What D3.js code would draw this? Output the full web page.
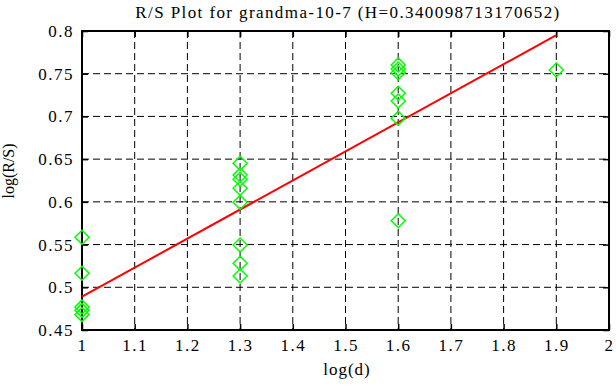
<!DOCTYPE html>
<html>
<head>
<meta charset="utf-8">
<script src="https://cdn.jsdelivr.net/npm/d3@7"></script>
<style>
  body { margin: 0; background: #fff; }
</style>
</head>
<body>
<div id="chart"></div>
<script>
var svgWidth = 616;
var svgHeight = 387;

var margin = { top: 31, right: 7, bottom: 57, left: 82 };
var width = svgWidth - margin.left - margin.right;
var height = svgHeight - margin.top - margin.bottom;

// data
var logD = [1, 1, 1, 1, 1,
            1.3, 1.3, 1.3, 1.3, 1.3, 1.3, 1.3, 1.3,
            1.6, 1.6, 1.6, 1.6, 1.6, 1.6, 1.6,
            1.9];
var logRS = [0.5585, 0.5164, 0.477, 0.473, 0.468,
             0.6451, 0.6314, 0.6264, 0.6159, 0.5995, 0.5495, 0.5281, 0.5132,
             0.7602, 0.7555, 0.7512, 0.7271, 0.7181, 0.6978, 0.5779,
             0.7543];
var fitX = [1, 1.9];
var hurst = 0.340098713170652;
var intercept = 0.1489;
var xTicks = [1, 1.1, 1.2, 1.3, 1.4, 1.5, 1.6, 1.7, 1.8, 1.9, 2];
var yTicks = [0.45, 0.5, 0.55, 0.6, 0.65, 0.7, 0.75, 0.8];

var fontFamily = "'Liberation Serif', 'DejaVu Serif', serif";

var svg = d3.select("#chart")
    .append("svg")
    .attr("width", svgWidth)
    .attr("height", svgHeight)
    .attr("font-family", fontFamily)
    .attr("font-size", 17);

var chartGroup = svg.append("g")
    .attr("transform", `translate(${margin.left}, ${margin.top})`);

var x = d3.scaleLinear().domain([1, 2]).range([0, width]);
var y = d3.scaleLinear().domain([0.45, 0.8]).range([height, 0]);

// dashed grid
chartGroup.append("g")
  .selectAll("line")
  .data(xTicks.slice(1, -1))
  .enter()
  .append("line")
    .attr("x1", d => x(d)).attr("x2", d => x(d))
    .attr("y1", 0).attr("y2", height)
    .attr("stroke", "#000")
    .attr("stroke-dasharray", "7,4");

chartGroup.append("g")
  .selectAll("line")
  .data(yTicks.slice(1, -1))
  .enter()
  .append("line")
    .attr("x1", 0).attr("x2", width)
    .attr("y1", d => y(d)).attr("y2", d => y(d))
    .attr("stroke", "#000")
    .attr("stroke-dasharray", "7,4");

// axes, ticks pointing inward
function styleAxis(g) {
  g.attr("font-family", fontFamily).attr("font-size", 17);
  g.select(".domain").remove();
  g.selectAll(".tick line").attr("stroke", "#000").attr("stroke-width", 1.5);
  g.selectAll(".tick text").attr("fill", "#000").attr("letter-spacing", "1.5px");
}

chartGroup.append("g")
    .attr("transform", `translate(0, ${height})`)
    .call(d3.axisBottom(x).tickValues(xTicks).tickFormat(d3.format("")).tickSizeInner(-6).tickPadding(9))
    .call(styleAxis);

chartGroup.append("g")
    .call(d3.axisLeft(y).tickValues(yTicks).tickFormat(d3.format("")).tickSizeInner(-6).tickPadding(8))
    .call(styleAxis);

chartGroup.append("g")
    .call(d3.axisTop(x).tickValues(xTicks).tickFormat("").tickSizeInner(-6))
    .call(styleAxis);

chartGroup.append("g")
    .attr("transform", `translate(${width}, 0)`)
    .call(d3.axisRight(y).tickValues(yTicks).tickFormat("").tickSizeInner(-6))
    .call(styleAxis);

chartGroup.append("rect")
    .attr("width", width)
    .attr("height", height)
    .attr("fill", "none")
    .attr("stroke", "#000")
    .attr("stroke-width", 2);

// fit line
var line = d3.line()
    .x(d => x(d))
    .y(d => y(hurst * d + intercept));

chartGroup.append("path")
    .datum(fitX)
    .attr("d", line)
    .attr("fill", "none")
    .attr("stroke", "#ff0000")
    .attr("stroke-width", 2);

// diamonds
var diamond = "M0,-7L7,0L0,7L-7,0Z";
chartGroup.selectAll(".pt")
  .data(logD)
  .enter()
  .append("path")
    .attr("class", "pt")
    .attr("d", diamond)
    .attr("transform", (d, i) => `translate(${x(d)}, ${y(logRS[i])})`)
    .attr("fill", "none")
    .attr("stroke", "#00ff00")
    .attr("stroke-width", 1.5);

// title & labels
svg.append("text")
    .attr("x", 348)
    .attr("y", 18)
    .attr("text-anchor", "middle")
    .attr("letter-spacing", "1.4px")
    .text("R/S Plot for grandma-10-7 (H=0.340098713170652)");

svg.append("text")
    .attr("x", 347)
    .attr("y", 375)
    .attr("text-anchor", "middle")
    .attr("letter-spacing", "1px")
    .text("log(d)");

svg.append("text")
    .attr("transform", "translate(14, 171) rotate(-90)")
    .attr("text-anchor", "middle")
    .attr("font-size", 16)
    .text("log(R/S)");
</script>
</body>
</html>
